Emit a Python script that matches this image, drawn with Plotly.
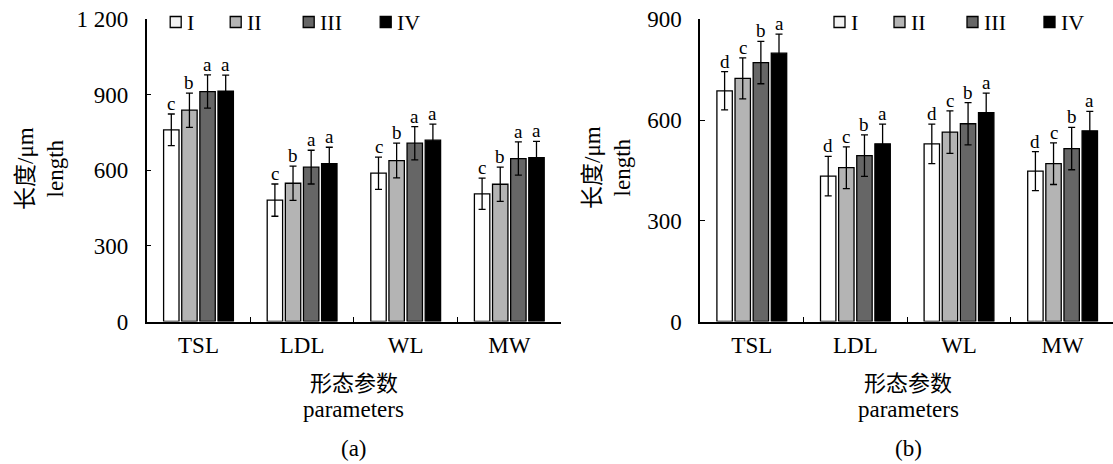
import plotly.graph_objects as go

# ---------------- data ----------------
categories = ["TSL", "LDL", "WL", "MW"]
series = ["I", "II", "III", "IV"]

a_I = [761, 482, 589, 507]
a_II = [839, 549, 639, 545]
a_III = [913, 613, 708, 647]
a_IV = [915, 627, 720, 651]
a_err_I = [63, 64, 64, 62]
a_err_II = [68, 68, 69, 68]
a_err_III = [66, 67, 66, 66]
a_err_IV = [63, 65, 64, 64]
a_let_I = ["c", "c", "c", "c"]
a_let_II = ["b", "b", "b", "b"]
a_let_III = ["a", "a", "a", "a"]
a_let_IV = ["a", "a", "a", "a"]

b_I = [687, 433, 529, 448]
b_II = [724, 458, 564, 470]
b_III = [771, 494, 589, 515]
b_IV = [799, 529, 622, 568]
b_err_I = [57, 59, 59, 58]
b_err_II = [61, 62, 63, 62]
b_err_III = [63, 62, 63, 63]
b_err_IV = [57, 59, 58, 58]
b_let_I = ["d", "d", "d", "d"]
b_let_II = ["c", "c", "c", "c"]
b_let_III = ["b", "b", "b", "b"]
b_let_IV = ["a", "a", "a", "a"]

a_ticks = [0, 300, 600, 900, 1200]
a_ticktext = ["0", "300", "600", "900", "1 200"]
b_ticks = [0, 300, 600, 900]
b_ticktext = ["0", "300", "600", "900"]

ytitle_cn = "长度"
ytitle_unit = "/μm"
ytitle_en = "length"
xtitle_cn = "形态参数"
xtitle_en = "parameters"
panel_labels = ["(a)", "(b)"]

# ---------------- style ----------------
colors = ["#ffffff", "#b4b4b4", "#666666", "#000000"]
W, H = 1113, 464
SERIF = "Liberation Serif"
CJK = "Noto Sans CJK SC"
BARGAP = 0.3
SLOT = (1 - BARGAP) / len(series)

def px(x):
    return x / W

def py(y):
    return 1 - y / H

fig = go.Figure()

panels = [
    dict(vals=[a_I, a_II, a_III, a_IV], errs=[a_err_I, a_err_II, a_err_III, a_err_IV],
         lets=[a_let_I, a_let_II, a_let_III, a_let_IV], xa="x", ya="y"),
    dict(vals=[b_I, b_II, b_III, b_IV], errs=[b_err_I, b_err_II, b_err_III, b_err_IV],
         lets=[b_let_I, b_let_II, b_let_III, b_let_IV], xa="x2", ya="y2"),
]

annotations = []
for p in panels:
    for j, name in enumerate(series):
        fig.add_trace(go.Bar(
            x=categories, y=p["vals"][j], name=name, showlegend=False,
            xaxis=p["xa"], yaxis=p["ya"],
            marker=dict(color=colors[j], line=dict(color="black", width=1.3)),
            error_y=dict(type="data", array=p["errs"][j], visible=True,
                         color="black", thickness=1.3, width=3.5),
        ))
        for i, c in enumerate(categories):
            annotations.append(dict(
                x=i + (j - 1.5) * SLOT, y=p["vals"][j][i] + p["errs"][j][i],
                xref=p["xa"], yref=p["ya"], text=p["lets"][j][i],
                showarrow=False, xanchor="center", yanchor="bottom", yshift=-2,
                font=dict(family=SERIF, size=19, color="black"),
            ))

# axis titles and panel labels
centers_x = [353.9, 908]
ytitle_x = [37, 604]
ytitle_text = ("<span style='font-family:Noto Sans CJK SC'>" + ytitle_cn + "</span>"
               + ytitle_unit + "<br>" + ytitle_en)
for k in range(2):
    annotations.append(dict(x=px(ytitle_x[k]), y=py(168), xref="paper", yref="paper",
                            text=ytitle_text, textangle=-90, showarrow=False,
                            xanchor="center", yanchor="middle",
                            font=dict(family=SERIF, size=23, color="black")))
    annotations.append(dict(x=px(centers_x[k]), y=py(381), xref="paper", yref="paper",
                            text=xtitle_cn, showarrow=False,
                            xanchor="center", yanchor="middle",
                            font=dict(family=CJK, size=22, color="black")))
    annotations.append(dict(x=px(centers_x[k]), y=py(409), xref="paper", yref="paper",
                            text=xtitle_en, showarrow=False,
                            xanchor="center", yanchor="middle",
                            font=dict(family=SERIF, size=23, color="black")))
    annotations.append(dict(x=px(centers_x[k]), y=py(448), xref="paper", yref="paper",
                            text=panel_labels[k], showarrow=False,
                            xanchor="center", yanchor="middle",
                            font=dict(family=SERIF, size=23, color="black")))

# manual legends
shapes = []
leg_start = [175.7, 839.5]
leg_offsets = [0, 60, 133, 210]
leg_y = 22
sq = 11
for k in range(2):
    for j, name in enumerate(series):
        cx = leg_start[k] + leg_offsets[j]
        shapes.append(dict(type="rect", xref="paper", yref="paper",
                           x0=px(cx - sq / 2), x1=px(cx + sq / 2),
                           y0=py(leg_y + sq / 2), y1=py(leg_y - sq / 2),
                           fillcolor=colors[j] if j else "#f2f2f2",
                           line=dict(color="black", width=1.3)))
        annotations.append(dict(x=px(cx + sq / 2 + 4), y=py(leg_y), xref="paper", yref="paper",
                                text=name, showarrow=False, xanchor="left", yanchor="middle",
                                font=dict(family=SERIF, size=22, color="black")))

ydom = [py(321.5), py(19.3)]
cat_px = 103.6
xa_common = dict(type="category", tickson="boundaries", ticks="inside", ticklen=5,
                 tickcolor="black", tickwidth=1.3, showline=True, linecolor="black",
                 linewidth=1.5, showgrid=False, zeroline=False, automargin=False,
                 tickfont=dict(family=SERIF, size=23, color="black"),
                 ticklabelstandoff=2, fixedrange=True)
ya_common = dict(ticks="inside", ticklen=5, tickcolor="black", tickwidth=1.3,
                 showline=True, linecolor="black", linewidth=1.5, showgrid=False,
                 zeroline=False, automargin=False,
                 tickfont=dict(family=SERIF, size=23, color="black"),
                 ticklabelstandoff=12, fixedrange=True)

fig.update_layout(
    width=W, height=H, margin=dict(l=0, r=0, t=0, b=0, autoexpand=False),
    paper_bgcolor="white", plot_bgcolor="white",
    font=dict(family=SERIF, color="black"),
    barmode="group", bargap=BARGAP, bargroupgap=0.15,
    xaxis=dict(domain=[px(146.7), px(146.7 + 4 * cat_px)], anchor="y",
               range=[-0.5, 3.5], **xa_common),
    yaxis=dict(domain=ydom, anchor="x", range=[0, 1200], tickvals=a_ticks,
               ticktext=a_ticktext, **ya_common),
    xaxis2=dict(domain=[px(700), 1], anchor="y2",
                range=[-0.5, -0.5 + (W - 700) / cat_px], **xa_common),
    yaxis2=dict(domain=ydom, anchor="x2", range=[0, 900], tickvals=b_ticks,
                ticktext=b_ticktext, **ya_common),
    annotations=annotations, shapes=shapes,
)

fig.write_html("out.html", config={"displayModeBar": False},
               post_script="document.body.style.margin='0';document.body.style.overflow='hidden';")
